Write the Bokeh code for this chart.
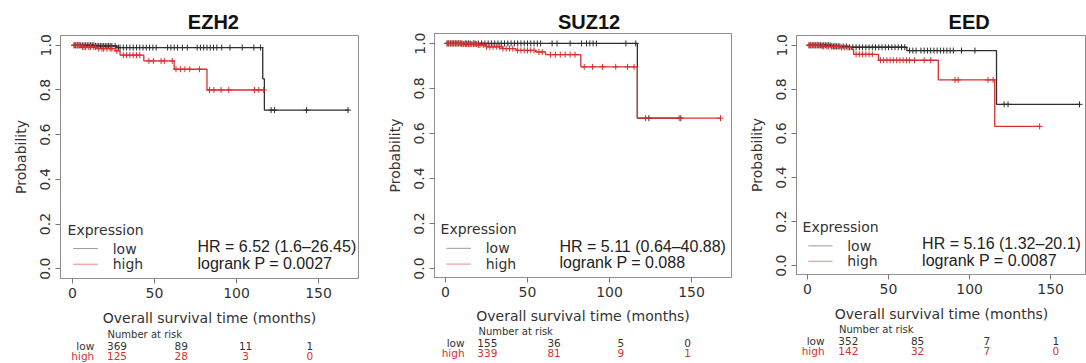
import numpy as np
from bokeh.plotting import figure
from bokeh.layouts import row, column
from bokeh.models import Range1d, FixedTicker, PrintfTickFormatter
from bokeh.core.properties import value
from bokeh.embed import file_html
from bokeh.resources import INLINE

# ---------------- data ----------------
genes = ["EZH2", "SUZ12", "EED"]
group_names = ["low", "high"]
risk_times = [0, 50, 100, 150]
x_ticks = [0, 50, 100, 150]
y_ticks = [0.0, 0.2, 0.4, 0.6, 0.8, 1.0]

# EZH2
ezh2_low_time = [0, 14, 27, 116.0, 117.0, 168.3]
ezh2_low_surv = [1.0, 0.997, 0.990, 0.850, 0.710, 0.710]
ezh2_low_censor = [1, 2, 3, 4, 5, 6, 7, 8, 9, 10, 11, 12, 13, 14, 15, 16, 17, 18, 19, 20, 21, 22,
                   23, 24, 26, 28, 29, 31, 33, 35, 37, 39, 41, 43, 45, 47, 49, 51, 58, 60, 62, 64,
                   67, 70, 76, 78, 80, 82, 84, 86, 88, 91, 96, 103.5, 110.6, 114.6, 121.1, 123.2,
                   142.7, 168.0]
ezh2_high_time = [0, 5, 15, 26, 29, 43.5, 62, 82, 117]
ezh2_high_surv = [1.0, 0.992, 0.985, 0.975, 0.956, 0.930, 0.893, 0.800, 0.800]
ezh2_high_censor = [1, 2, 3, 4, 6, 7, 8, 10, 11, 13, 14, 16, 18, 19, 21, 23, 24, 27, 31, 33, 35,
                    37, 39, 41, 46.6, 49.3, 54, 56, 60.8, 63.1, 65.8, 68.5, 71.5, 77.4, 83.5, 86.2,
                    90.6, 95.3, 111, 113.6, 116.6]
ezh2_risk_low = [369, 89, 11, 1]
ezh2_risk_high = [125, 28, 3, 0]
ezh2_hr = "HR = 6.52 (1.6\u201326.45)"
ezh2_logrank = "logrank P = 0.0027"

# SUZ12
suz12_low_time = [0, 117.0, 143.5]
suz12_low_surv = [1.0, 0.668, 0.668]
suz12_low_censor = [1, 2, 3, 4, 5, 6, 7, 8, 9, 10, 12, 13, 14, 15, 17, 18, 20, 22, 24, 26, 28, 30,
                    32, 34, 36, 38, 40, 42, 44, 46, 48, 50, 52, 54, 56, 58, 65, 68, 76, 83, 86, 88,
                    90, 92, 110, 116, 124, 143.5]
suz12_high_time = [0, 10, 20, 25, 35, 43, 55, 61, 82.5, 117.0, 167.7]
suz12_high_surv = [1.0, 0.997, 0.993, 0.985, 0.977, 0.969, 0.962, 0.950, 0.896, 0.668, 0.668]
suz12_high_censor = [1, 2, 3, 4, 5, 6, 7, 8, 9, 10, 11, 12, 13, 14, 15, 16, 17, 18, 19, 20, 21,
                     23, 25, 27, 29, 31, 33, 35, 37, 39, 41, 44, 46, 48, 50, 52, 54, 57, 59, 64,
                     67, 70, 73, 76, 79, 84.6, 89.6, 95.7, 103.8, 111, 115, 122, 142.5, 167.7]
suz12_risk_low = [155, 36, 5, 0]
suz12_risk_high = [339, 81, 9, 1]
suz12_hr = "HR = 5.11 (0.64\u201340.88)"
suz12_logrank = "logrank P = 0.088"

# EED
eed_low_time = [0, 15, 25, 61.3, 116.6, 167.8]
eed_low_surv = [1.0, 0.995, 0.991, 0.976, 0.732, 0.732]
eed_low_censor = [1, 2, 3, 4, 5, 6, 7, 8, 9, 10, 11, 12, 13, 14, 15, 16, 17, 18, 19, 20, 22, 24,
                  26, 28, 30, 32, 34, 36, 38, 40, 42, 44, 46, 48, 50, 52, 54, 56, 58, 60, 63, 65,
                  67, 70, 72, 74, 76, 78, 80, 82, 84, 86, 88, 90, 95, 103.3, 121.3, 123.7, 167.8]
eed_high_time = [0, 8, 20, 27, 28.5, 43.8, 80.7, 115.5, 143.2]
eed_high_surv = [1.0, 0.995, 0.990, 0.981, 0.959, 0.932, 0.843, 0.632, 0.632]
eed_high_censor = [1, 2, 3, 4, 5, 6, 7, 9, 10, 12, 13, 15, 17, 19, 21, 23, 25, 30, 32, 34, 36,
                   38, 40, 45, 47, 49, 51, 53, 55, 57, 59, 61, 63, 66, 72, 76, 91, 93, 111.4,
                   114.5, 143.2]
eed_risk_low = [352, 85, 7, 1]
eed_risk_high = [142, 32, 7, 0]
eed_hr = "HR = 5.16 (1.32\u201320.1)"
eed_logrank = "logrank P = 0.0087"

# ---------------- styling / layout ----------------
LOW_COLOR = "#2e2e2e"
HIGH_COLOR = "#d8302f"
LOW_LEG = "#9a9a9a"
HIGH_LEG = "#e58a8a"
TXT = "#333333"
FRAME = "#8f8f8f"
SANS = "DejaVu Sans"
ARIAL = "Liberation Sans"
HDR = 32  # height of the title strip

layouts = [
    dict(w=380, h=296, th=35, bl=60, br=22, bt=3, bb=45, xr=(-7.32, 174.39), yr=(-0.044, 1.044),
         title_xy=(75.0, 10.5), hr_x=76.2, ty=(29, 18, 7.5), xls=9),
    dict(w=365, h=294, th=37, bl=54, br=14, bt=1, bb=47, xr=(-6.71, 174.4), yr=(-0.0396, 1.044),
         title_xy=(76.2, 10.5), hr_x=69.5, ty=(32, 21, 11), xls=8),
    dict(w=341, h=292, th=39, bl=50, br=0, bt=3, bb=46, xr=(-6.76, 172.1), yr=(-0.04, 1.0444),
         title_xy=(87.3, 10.5), hr_x=70.7, ty=(34, 23, 13), xls=9),
]


def surv_at(times, surv, c):
    t = np.asarray(times, dtype=float)
    s = np.asarray(surv, dtype=float)
    idx = np.searchsorted(t, np.asarray(c, dtype=float), side="right") - 1
    idx = np.clip(idx, 0, len(s) - 1)
    return s[idx]


def strip(cfg, height):
    fw = cfg["w"] - cfg["bl"] - cfg["br"]
    scale = fw / (cfg["xr"][1] - cfg["xr"][0])
    tx0 = cfg["xr"][0] - cfg["bl"] / scale
    tx1 = cfg["xr"][1] + cfg["br"] / scale
    f = figure(width=cfg["w"], height=height, x_range=Range1d(tx0, tx1),
               y_range=Range1d(0, height), output_backend="svg", toolbar_location=None,
               x_axis_type=None, y_axis_type=None, min_border=0)
    f.grid.visible = False
    f.outline_line_color = None
    return f, scale


def panel(cfg, gene, curves, hr, lr, risk_low, risk_high):
    # title strip
    hdr, _ = strip(cfg, HDR)
    hdr.text(x=[cfg["title_xy"][0]], y=[cfg["title_xy"][1]], text=[gene],
             text_font=value(ARIAL), text_font_size="20px", text_font_style="bold",
             text_color="#111111", text_align="center", text_baseline="middle")

    p = figure(width=cfg["w"], height=cfg["h"], x_range=Range1d(*cfg["xr"]),
               y_range=Range1d(*cfg["yr"]), output_backend="svg", toolbar_location=None,
               min_border_left=cfg["bl"], min_border_right=cfg["br"],
               min_border_top=cfg["bt"], min_border_bottom=cfg["bb"])
    p.grid.visible = False
    p.outline_line_color = FRAME
    p.outline_line_width = 1
    p.background_fill_color = "white"
    p.border_fill_color = "white"

    p.xaxis.ticker = FixedTicker(ticks=x_ticks)
    p.yaxis.ticker = FixedTicker(ticks=y_ticks)
    p.yaxis.formatter = PrintfTickFormatter(format="%.1f")
    p.yaxis.major_label_orientation = "vertical"
    for ax in (p.xaxis[0], p.yaxis[0]):
        ax.axis_line_color = FRAME
        ax.major_tick_line_color = "#777777"
        ax.major_tick_in = 0
        ax.major_tick_out = 5
        ax.minor_tick_line_color = None
        ax.major_label_text_font = SANS
        ax.major_label_text_font_size = "14px"
        ax.major_label_text_color = TXT
        ax.axis_label_text_font = SANS
        ax.axis_label_text_font_size = "14px"
        ax.axis_label_text_font_style = "normal"
        ax.axis_label_text_color = TXT
    p.xaxis.major_label_standoff = 4
    p.xaxis.axis_label_standoff = cfg["xls"]
    p.yaxis.major_label_standoff = 5
    p.yaxis.axis_label_standoff = 9
    p.xaxis.axis_label = "Overall survival time (months)"
    p.yaxis.axis_label = "Probability"

    colors = [LOW_COLOR, HIGH_COLOR]
    for (tt, ss, cc), col in zip(curves, colors):
        p.step(x=tt, y=ss, mode="after", line_color=col, line_width=1.3)
        p.scatter(x=cc, y=surv_at(tt, ss, cc), marker="cross", size=6, line_color=col,
                  line_width=1)

    # legend (R style)
    p.text(x=[-3], y=[0.175], text=["Expression"], text_font=value(SANS),
           text_font_size="14px", text_color=TXT, text_baseline="middle", text_align="left")
    leg_y = [0.09, 0.02]
    p.segment(x0=[0.5, 0.5], x1=[15.5, 15.5], y0=leg_y, y1=leg_y,
              line_color=[LOW_LEG, HIGH_LEG], line_width=1)
    p.text(x=[24.5, 24.5], y=leg_y, text=group_names, text_font=value(SANS),
           text_font_size="14px", text_color=TXT, text_baseline="middle", text_align="left")
    p.text(x=[cfg["hr_x"], cfg["hr_x"]], y=[0.10, 0.025], text=[hr, lr], text_font=value(ARIAL),
           text_font_size="16px", text_color="#222222", text_baseline="middle",
           text_align="left")

    # number at risk table
    t, scale = strip(cfg, cfg["th"])
    y_nar, y_low, y_high = cfg["ty"]
    t.text(x=[cfg["xr"][0]], y=[y_nar], text=["Number at risk"], text_font=value(SANS),
           text_font_size="10px", text_color=TXT, text_baseline="middle", text_align="left")
    lab_x = cfg["xr"][0] - 17 / scale
    t.text(x=[lab_x, lab_x], y=[y_low, y_high], text=group_names, text_font=value(SANS),
           text_font_size="10.5px", text_color=[TXT, HIGH_COLOR], text_baseline="middle",
           text_align="right")
    t.text(x=risk_times, y=[y_low] * len(risk_times), text=[str(v) for v in risk_low],
           text_font=value(SANS), text_font_size="10.5px", text_color=TXT,
           text_baseline="middle", text_align="center")
    t.text(x=risk_times, y=[y_high] * len(risk_times), text=[str(v) for v in risk_high],
           text_font=value(SANS), text_font_size="10.5px", text_color=HIGH_COLOR,
           text_baseline="middle", text_align="center")
    return column(hdr, p, t, spacing=0)


c1 = panel(layouts[0], genes[0],
           [(ezh2_low_time, ezh2_low_surv, ezh2_low_censor),
            (ezh2_high_time, ezh2_high_surv, ezh2_high_censor)],
           ezh2_hr, ezh2_logrank, ezh2_risk_low, ezh2_risk_high)
c2 = panel(layouts[1], genes[1],
           [(suz12_low_time, suz12_low_surv, suz12_low_censor),
            (suz12_high_time, suz12_high_surv, suz12_high_censor)],
           suz12_hr, suz12_logrank, suz12_risk_low, suz12_risk_high)
c3 = panel(layouts[2], genes[2],
           [(eed_low_time, eed_low_surv, eed_low_censor),
            (eed_high_time, eed_high_surv, eed_high_censor)],
           eed_hr, eed_logrank, eed_risk_low, eed_risk_high)

layout = row(c1, c2, c3, spacing=0)
open("out.html", "w").write(file_html(layout, INLINE))
